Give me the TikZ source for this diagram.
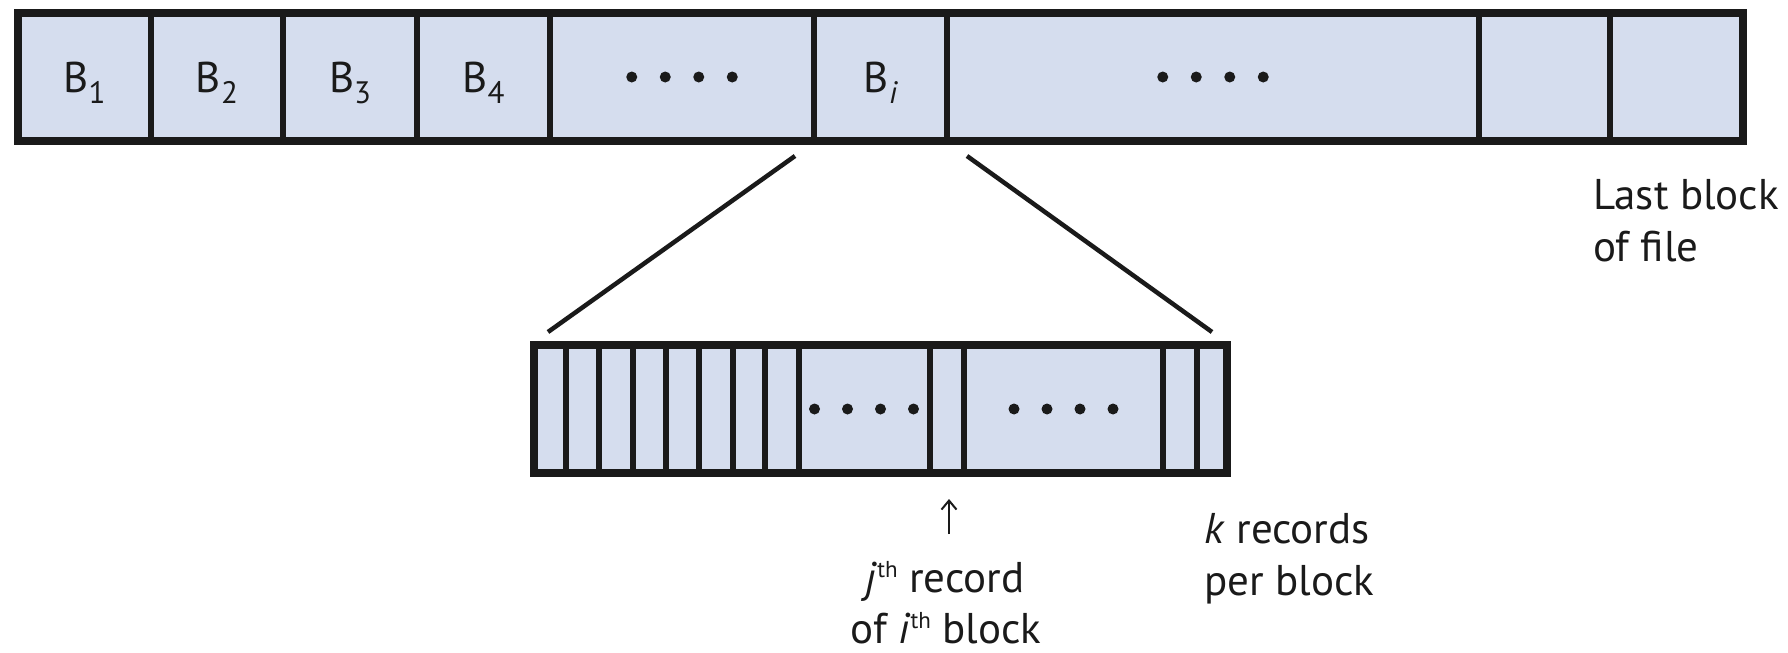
\documentclass[tikz,border=0pt]{standalone}
\usepackage{fontspec}
\setmainfont{PT Sans}
\usetikzlibrary{arrows.meta}
\definecolor{cellblue}{RGB}{213,221,238}
\definecolor{inkline}{RGB}{26,26,26}
% lowered index of a block name, raised ordinal suffix
\newcommand{\blocksub}[1]{\raisebox{-11pt}{\fontsize{31}{31}\selectfont #1}}
\newcommand{\ordsup}[1]{\raisebox{15pt}{\fontsize{23}{23}\selectfont #1}}
\begin{document}
\begin{tikzpicture}[x=1pt,y=-1pt,
  txt/.style={font=\fontsize{43}{52}\selectfont, inner sep=0pt, text=inkline},
  frame/.style={draw=inkline, line width=8pt},
  divider/.style={draw=inkline, line width=6pt},
  zoomline/.style={draw=inkline, line width=4.5pt},
  pointer/.style={draw=inkline, line width=2pt,
    -{Straight Barb[length=9pt,width=15pt,line width=2pt]}},
]
\useasboundingbox (0,0) rectangle (1788,653);

% ---- the file: a row of blocks ----
\fill[cellblue] (18,13) rectangle (1743,141);
\foreach \x in {151,283,417,550,814,947,1479,1610}
  \draw[divider] (\x,13) -- (\x,141);
\draw[frame] (18,13) rectangle (1743,141);

\node[txt, anchor=base] (b1) at (84.5,92) {B\blocksub{1}};
\node[txt, anchor=base] (b2) at (217,92) {B\blocksub{2}};
\node[txt, anchor=base] (b3) at (350,92) {B\blocksub{3}};
\node[txt, anchor=base] (b4) at (483.5,92) {B\blocksub{4}};
\node[txt, anchor=base] (bi) at (880.5,92) {B\blocksub{\itshape i}};

\foreach \c in {682,1213}
  \foreach \k in {-1.5,-0.5,0.5,1.5}
    \fill[inkline] (\c+33.5*\k,77) circle (5.5pt);

% ---- block i: a row of records ----
\fill[cellblue] (534,345) rectangle (1227,473);
\foreach \x in {565.5,599,632.5,666,699,732.5,765,798.5,930,964,1163,1196.5}
  \draw[divider] (\x,345) -- (\x,473);
\draw[frame] (534,345) rectangle (1227,473);

\foreach \c in {864,1063.5}
  \foreach \k in {-1.5,-0.5,0.5,1.5}
    \fill[inkline] (\c+33*\k,409) circle (5.5pt);

% ---- magnification lines from block i ----
\coordinate (fanLtop) at (795,156);
\coordinate (fanLbot) at (548,332);
\coordinate (fanRtop) at (967,156);
\coordinate (fanRbot) at (1212,332);
\draw[zoomline] (fanLtop) -- (fanLbot);
\draw[zoomline] (fanRtop) -- (fanRbot);

% ---- labels ----
\node[txt, anchor=base west] (lastA) at (1593,209) {Last block};
\node[txt, anchor=base west] (lastB) at (1593,261) {of file};

\coordinate (jfoot) at (949,534);
\coordinate (jtip) at (949,499);
\draw[pointer] (jfoot) -- (jtip);

\node[txt, anchor=base] (jrecA) at (945,592) {\textit{j}\ordsup{th} record};
\node[txt, anchor=base] (jrecB) at (946,643) {of \textit{i}\ordsup{th} block};

\node[txt, anchor=base west] (krecA) at (1204,543) {\textit{k} records};
\node[txt, anchor=base west] (krecB) at (1204,595) {per block};
\end{tikzpicture}
\end{document}
